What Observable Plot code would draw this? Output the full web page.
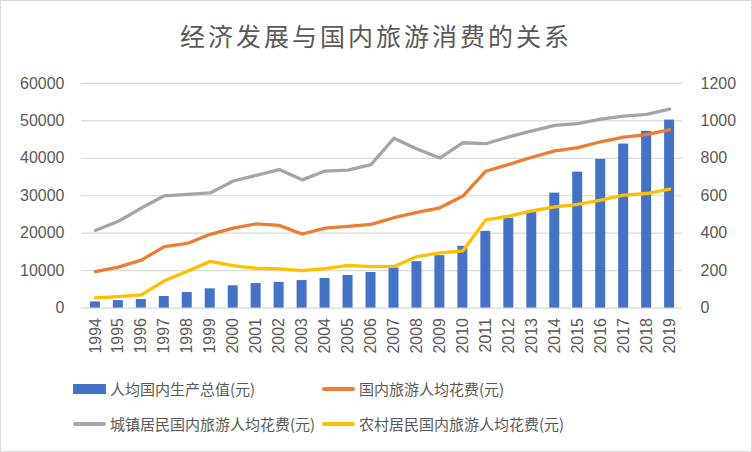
<!DOCTYPE html>
<html>
<head>
<meta charset="utf-8">
<script src="https://cdn.jsdelivr.net/npm/d3@7"></script>
<script src="https://cdn.jsdelivr.net/npm/@observablehq/plot@0.6"></script>
<style>
  html, body { margin: 0; padding: 0; background: #fff; }
  #wrap { position: relative; width: 752px; height: 452px; box-sizing: border-box; border: 1px solid #d9d9d9; overflow: hidden; background:#fff; }
  #title { position: absolute; left: 0; right: 0; top: 18px; text-align: center; font-family: "Noto Sans CJK SC", sans-serif; font-size: 25px; letter-spacing: 3px; color: #595959; line-height: 32px; }
  #chart { position: absolute; left: -1px; top: -1px; }
  .leg { position: absolute; display: flex; align-items: center; font-family: "Noto Sans CJK SC", sans-serif; font-size: 15px; color: #595959; white-space: nowrap; line-height: 20px; }
  .sw { display: inline-block; width: 33px; margin-right: 4px; }
</style>
</head>
<body>
<div id="wrap">
  <div id="title">经济发展与国内旅游消费的关系</div>
  <div id="chart"></div>
</div>
<script>
const years = ["1994","1995","1996","1997","1998","1999","2000","2001","2002","2003","2004","2005","2006","2007","2008","2009","2010","2011","2012","2013","2014","2015","2016","2017","2018","2019"];
const gdpPerCapita = [1650, 2000, 2300, 3100, 4150, 5150, 5950, 6550, 6850, 7350, 7900, 8700, 9500, 10700, 12400, 14000, 16500, 20500, 24000, 25600, 30700, 36300, 39700, 43800, 47200, 50200];
const tourTotal = [195.3, 218.7, 256.2, 328.1, 345.0, 394.0, 426.6, 449.5, 441.8, 395.7, 427.5, 436.1, 446.9, 482.6, 511.0, 535.4, 598.2, 731.0, 767.9, 805.5, 839.7, 857.0, 888.2, 913.0, 925.8, 953.3];
const tourUrban = [414.7, 464.0, 534.1, 599.8, 607.0, 614.8, 678.6, 708.3, 739.7, 684.9, 731.8, 737.1, 766.4, 906.9, 849.4, 801.1, 883.0, 877.8, 914.5, 946.6, 975.4, 985.5, 1009.1, 1024.6, 1034.0, 1062.6];
const tourRural = [54.9, 61.5, 70.5, 145.7, 197.0, 249.5, 226.6, 212.7, 209.1, 200.0, 210.2, 227.6, 221.9, 222.5, 275.3, 295.3, 306.0, 471.4, 491.0, 518.9, 540.2, 554.2, 576.4, 603.3, 611.9, 634.7];
const leftTicks = [0, 10000, 20000, 30000, 40000, 50000, 60000];
const rightTicks = [0, 200, 400, 600, 800, 1000, 1200];
const seriesNames = ["人均国内生产总值(元)", "国内旅游人均花费(元)", "城镇居民国内旅游人均花费(元)", "农村居民国内旅游人均花费(元)"];
const colors = ["#4472C4", "#ED7D31", "#A5A5A5", "#FFC000"];

const ratio = 60000 / 1200;
const data = years.map((y, i) => ({year: y, gdp: gdpPerCapita[i], total: tourTotal[i], urban: tourUrban[i], rural: tourRural[i]}));

const lineOpts = (key, color) => Plot.lineY(data, {x: "year", y: d => d[key] * ratio, stroke: color, strokeWidth: 3.3, strokeLinecap: "round", strokeLinejoin: "round"});

const chart = Plot.plot({
  width: 752,
  height: 452,
  marginLeft: 81,
  marginRight: 69,
  marginTop: 83,
  marginBottom: 144,
  style: {fontFamily: "'Liberation Sans', Arial, sans-serif", fontSize: "16px", color: "#595959", background: "transparent"},
  x: {type: "band", domain: years, paddingInner: 0.57, paddingOuter: 0.285},
  y: {domain: [0, 60000]},
  marks: [
    Plot.gridY(leftTicks, {stroke: "#d9d9d9", strokeOpacity: 1, strokeWidth: 1.2}),
    Plot.barY(data, {x: "year", y: "gdp", fill: colors[0]}),
    lineOpts("total", colors[1]),
    lineOpts("urban", colors[2]),
    lineOpts("rural", colors[3]),
    Plot.axisY(leftTicks, {anchor: "left", tickSize: 0, tickPadding: 17, tickFormat: d3.format("d"), label: null}),
    Plot.axisY(leftTicks, {anchor: "right", tickSize: 0, tickPadding: 18, tickFormat: d => String(d / ratio), label: null}),
    Plot.axisX({tickRotate: -90, tickSize: 0, tickPadding: 10, label: null})
  ]
});
document.getElementById("chart").appendChild(chart);

const wrap = document.getElementById("wrap");
const legendPos = [[72, 378], [321, 378], [72, 413], [321, 413]];
seriesNames.forEach((name, i) => {
  const el = document.createElement("div");
  el.className = "leg";
  el.style.left = legendPos[i][0] + "px";
  el.style.top = legendPos[i][1] + "px";
  const sw = document.createElement("span");
  sw.className = "sw";
  if (i === 0) { sw.style.height = "10px"; sw.style.background = colors[i]; }
  else { sw.style.height = "4px"; sw.style.borderRadius = "2px"; sw.style.background = colors[i]; }
  el.appendChild(sw);
  const t = document.createElement("span");
  t.textContent = name;
  el.appendChild(t);
  wrap.appendChild(el);
});
</script>
</body>
</html>
